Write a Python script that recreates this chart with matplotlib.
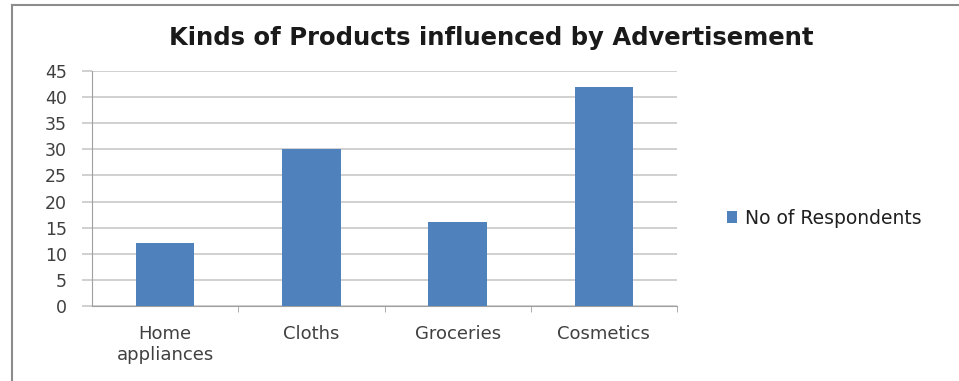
import matplotlib
matplotlib.use("Agg")
import matplotlib.pyplot as plt
from matplotlib.lines import Line2D
import numpy as np

categories = ["Home\nappliances", "Cloths", "Groceries", "Cosmetics"]
respondents = [12, 30, 16, 42]
series_name = "No of Respondents"
title = "Kinds of Products influenced by Advertisement"
yticks = [0, 5, 10, 15, 20, 25, 30, 35, 40, 45]

plt.rcParams['font.family'] = ['DejaVu Sans']

fig = plt.figure(figsize=(9.59, 3.81), dpi=100)
ax = fig.add_axes([92/959, 1-306/381, (677-92)/959, (306-71)/381])

x = np.arange(len(categories))
ax.bar(x, respondents, width=0.4, color="#4F81BD", label=series_name, zorder=3)

ax.set_xlim(-0.5, len(categories) - 0.5)
ax.set_ylim(0, 45)
ax.set_yticks(yticks)
ax.set_yticklabels([str(v) for v in yticks], fontsize=12.5, color="#404040")
ax.yaxis.grid(True, color="#C8C8C8", linewidth=1.2, zorder=0)
ax.tick_params(axis='y', length=7, color="#C8C8C8", width=1.2, pad=11)

ax.set_xticks(x)
ax.set_xticklabels(categories, fontsize=13, color="#404040", linespacing=1.15)
ax.tick_params(axis='x', length=0, pad=14)
ax.set_xticks(np.arange(0.5, len(categories), 1.0), minor=True)
ax.tick_params(axis='x', which='minor', length=4, color="#A0A0A0")

for s in ["top", "right"]:
    ax.spines[s].set_visible(False)
ax.spines["left"].set_color("#A0A0A0")
ax.spines["bottom"].set_color("#A0A0A0")

fig.text(491/959, 1-38/381, title, ha="center", va="center",
         fontsize=17.5, fontweight="bold", color="#1A1A1A")

fig.legend(loc="center left", bbox_to_anchor=(710/959, 1-218/381), frameon=False,
           fontsize=13.5, handlelength=0.55, handleheight=0.55, handletextpad=0.4,
           labelcolor="#202020")

fig.add_artist(Line2D([12/959, 1], [1-5/381, 1-5/381], color="#8C8C8C", linewidth=1.5,
                      transform=fig.transFigure))
fig.add_artist(Line2D([12/959, 12/959], [0, 1-5/381], color="#8C8C8C", linewidth=1.5,
                      transform=fig.transFigure))

fig.savefig("out.png", dpi=100)
